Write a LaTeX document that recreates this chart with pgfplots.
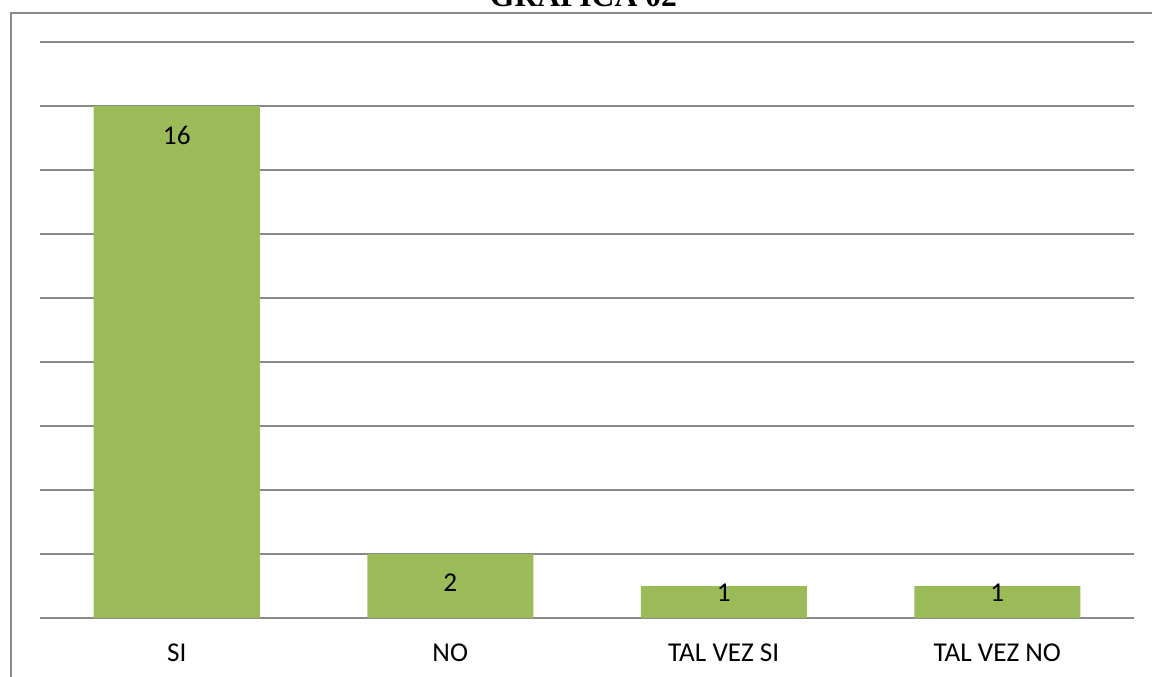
\documentclass[border=0pt]{standalone}
\usepackage{pgfplots}
\pgfplotsset{compat=1.18}
\usepackage{pgfplotstable}
\usepackage{fontspec}
\setmainfont{Carlito}
\newfontfamily\titlefont{Liberation Serif}
\definecolor{barcol}{HTML}{9BBB59}
\definecolor{gridcol}{HTML}{898989}
\pgfplotstableread{
x y off
0 16 14.5
1 2 14.5
2 1 3.3
3 1 3.3
}\datatable
\begin{document}
\begin{tikzpicture}
\fontsize{13.6}{15}\selectfont
\begin{axis}[
  at={(20pt,-309pt)}, anchor=south west,
  scale only axis, width=547pt, height=288pt,
  xmin=-0.5, xmax=3.5, ymin=0, ymax=18,
  ybar, bar width=83pt,
  axis line style={draw=none},
  major tick length=0pt,
  /pgf/number format/assume math mode=true,
  xtick=data,
  xticklabels={SI,NO,TAL VEZ SI,TAL VEZ NO},
  xticklabel style={anchor=base, yshift=-21.8pt, font=\fontsize{13.6}{15}\selectfont},
  ytick={0,2,...,18}, yticklabels={},
  ymajorgrids,
  grid style={gridcol, line width=0.9pt},
  nodes near coords,
  visualization depends on={\thisrow{off} \as \off},
  every node near coord/.append style={anchor=center, yshift=-\off pt, font=\fontsize{13.6}{15}\selectfont, text=black},
]
\addplot[fill=barcol, draw=none] table[x=x, y=y] {\datatable};
\end{axis}
\draw[gridcol, line width=1pt] (5.4pt,-400pt) -- (5.4pt,-6.35pt) -- (700pt,-6.35pt);
\node[anchor=base, font=\titlefont\bfseries\fontsize{15.8}{18}\selectfont] at (291.7pt,-3pt) {GRAFICA 02};
\pgfresetboundingbox
\path[use as bounding box] (0,0) rectangle (576pt,-338pt);
\end{tikzpicture}
\end{document}
